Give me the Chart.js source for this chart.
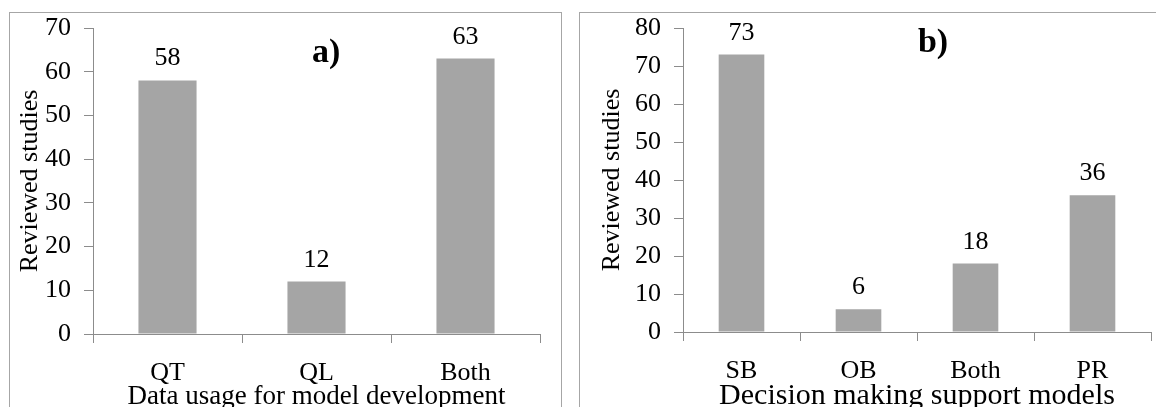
<!DOCTYPE html>
<html>
<head>
<meta charset="utf-8">
<script src="https://cdn.jsdelivr.net/npm/chart.js@4.4.1/dist/chart.umd.min.js"></script>
<style>
    body {margin: 0; background: #fff; width: 1156px; height: 407px; overflow: hidden; position: relative;}
    .panel {position: absolute; top: 12px; height: 440px; border: 1px solid #a6a6a6; box-sizing: border-box; background: #fff;}
    #panelA {left: 9px; width: 553px;}
    #panelB {left: 579px; width: 600px;}
    canvas {position: absolute; left: 0; top: 0;}
</style>
</head>
<body>
<div class="panel" id="panelA"><canvas id="chartA" width="551" height="410"></canvas></div>
<div class="panel" id="panelB"><canvas id="chartB" width="576" height="410"></canvas></div>
<script>
// data
const categoriesA = ['QT', 'QL', 'Both'],
      valuesA = [58, 12, 63],
      categoriesB = ['SB', 'OB', 'Both', 'PR'],
      valuesB = [73, 6, 18, 36],
      yMaxA = 70,
      yMaxB = 80,
      yStep = 10;

const FONT = "'Liberation Serif', 'Times New Roman', serif",
      barColor = '#a5a5a5',
      axisColor = '#8c8c8c';

// numbers over the bars
const barLabels = {
    id: 'barLabels',
    afterDatasetsDraw(chart) {
        const ctx = chart.ctx,
              meta = chart.getDatasetMeta(0),
              data = chart.data.datasets[0].data;
        ctx.save();
        ctx.font = '26px ' + FONT;
        ctx.fillStyle = '#000';
        ctx.textAlign = 'center';
        ctx.textBaseline = 'alphabetic';
        meta.data.forEach((bar, i) => {
            ctx.fillText(data[i], bar.x, bar.y - 15);
        });
        ctx.restore();
    }
};

// "a)" / "b)" tag inside the plot
const panelTag = {
    id: 'panelTag',
    afterDraw(chart, args, opts) {
        const ctx = chart.ctx,
              area = chart.chartArea;
        ctx.save();
        ctx.font = 'bold 34px ' + FONT;
        ctx.fillStyle = '#000';
        ctx.textAlign = 'left';
        ctx.textBaseline = 'alphabetic';
        ctx.fillText(opts.text, area.left + opts.fx * (area.right - area.left), area.top + opts.fy * (area.bottom - area.top));
        ctx.restore();
    }
};

function drawPanel(canvasId, labels, values, yMax, xTitle, cfg) {
    const ctx = document.getElementById(canvasId).getContext('2d');
    return new Chart(ctx, {
        type: 'bar',
        data: {
            labels: labels,
            datasets: [{
                data: values,
                backgroundColor: barColor,
                borderWidth: 0,
                categoryPercentage: 1,
                barPercentage: 0.39
            }]
        },
        options: {
            responsive: false,
            animation: false,
            layout: {padding: {top: 15, right: cfg.padRight, left: 0, bottom: 0}},
            plugins: {
                legend: {display: false},
                tooltip: {enabled: false},
                panelTag: {text: cfg.tag, fx: cfg.tagX, fy: cfg.tagY}
            },
            scales: {
                x: {
                    grid: {drawOnChartArea: false, drawTicks: true, tickLength: 9, color: axisColor, offset: true},
                    border: {display: true, color: axisColor, width: 1},
                    ticks: {color: '#000', font: {family: FONT, size: 26}, padding: 15, maxRotation: 0},
                    title: {display: true, text: xTitle, color: '#000', font: {family: FONT, size: cfg.xTitleSize, lineHeight: 1}, padding: {top: 0, bottom: cfg.xTitlePad}},
                    afterFit(scale) { scale.height = cfg.xHeight; }
                },
                y: {
                    min: 0,
                    max: yMax,
                    // small lineHeight keeps the top label from pushing the plot down
                    ticks: {stepSize: yStep, color: '#000', font: {family: FONT, size: 26, lineHeight: 0.1}, padding: 13},
                    grid: {drawOnChartArea: false, drawTicks: true, tickLength: 9, color: axisColor},
                    border: {display: true, color: axisColor, width: 1},
                    title: {display: true, text: 'Reviewed studies', color: '#000', font: {family: FONT, size: 26, lineHeight: 1}, padding: {top: cfg.yTitlePad, bottom: 0}},
                    afterFit(scale) { scale.width = cfg.yWidth; }
                }
            }
        },
        plugins: [barLabels, panelTag]
    });
}

drawPanel('chartA', categoriesA, valuesA, yMaxA, 'Data usage for model development',
    {padRight: 21, xHeight: 89, yWidth: 83, yTitlePad: 7, xTitleSize: 27, xTitlePad: 13, tag: 'a)', tagX: 0.49, tagY: 0.11});
drawPanel('chartB', categoriesB, valuesB, yMaxB, 'Decision making support models',
    {padRight: 5, xHeight: 91, yWidth: 103, yTitlePad: 19, xTitleSize: 30, xTitlePad: 12, tag: 'b)', tagX: 0.502, tagY: 0.08});
</script>
</body>
</html>
